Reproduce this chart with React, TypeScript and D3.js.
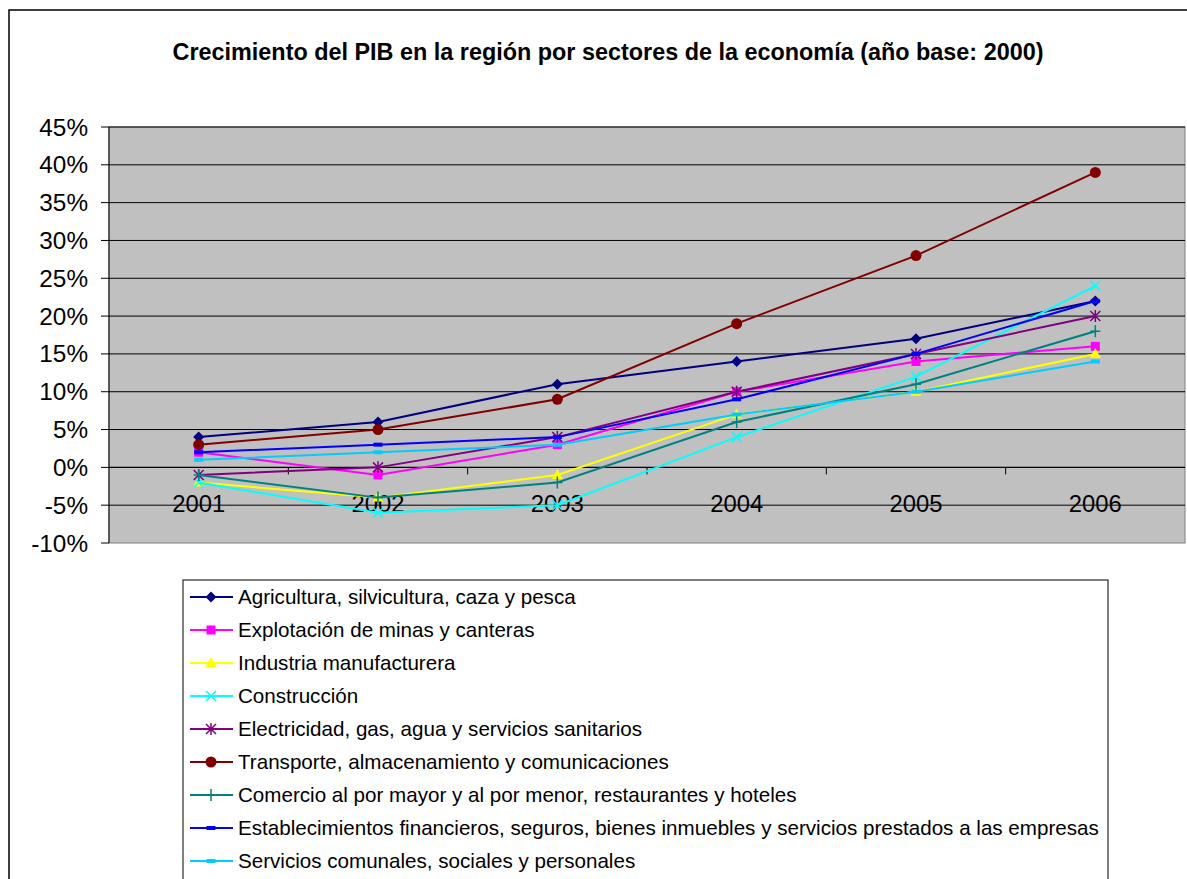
import React from 'react'
import * as d3 from 'd3'

const years = ['2001', '2002', '2003', '2004', '2005', '2006']
const yTicks = [-10, -5, 0, 5, 10, 15, 20, 25, 30, 35, 40, 45]

const sectors = [
    'Agricultura, silvicultura, caza y pesca',
    'Explotación de minas y canteras',
    'Industria manufacturera',
    'Construcción',
    'Electricidad, gas, agua y servicios sanitarios',
    'Transporte, almacenamiento y comunicaciones',
    'Comercio al por mayor y al por menor, restaurantes y hoteles',
    'Establecimientos financieros, seguros, bienes inmuebles y servicios prestados a las empresas',
    'Servicios comunales, sociales y personales',
]

const agricultura = [4, 6, 11, 14, 17, 22]
const mineria = [2, -1, 3, 10, 14, 16]
const industria = [-2, -4, -1, 7, 10, 15]
const construccion = [-2, -6, -5, 4, 12, 24]
const electricidad = [-1, 0, 4, 10, 15, 20]
const transporte = [3, 5, 9, 19, 28, 39]
const comercio = [-1, -4, -2, 6, 11, 18]
const financieros = [2, 3, 4, 9, 15, 22]
const servicios = [1, 2, 3, 7, 10, 14]

const seriesValues = [agricultura, mineria, industria, construccion, electricidad, transporte, comercio, financieros, servicios]
const colors = ['#000080', '#FF00FF', '#FFFF00', '#00FFFF', '#800080', '#800000', '#008080', '#0000FF', '#00CCFF']
const markers = ['diamond', 'square', 'triangle', 'x', 'star', 'circle', 'plus', 'dash', 'dash']

const font = 'Arial, "Liberation Sans", sans-serif'

function Marker (props: { kind: string, x: number, y: number, color: string }) {
    const { kind, x, y, color } = props
    switch (kind) {
    case 'diamond':
        return <path d={`M${x},${y - 5.5}L${x + 5.5},${y}L${x},${y + 5.5}L${x - 5.5},${y}Z`} fill={color} />
    case 'square':
        return <rect x={x - 4.5} y={y - 4.5} width={9} height={9} fill={color} />
    case 'triangle':
        return <path d={`M${x},${y - 6}L${x + 5.5},${y + 4}L${x - 5.5},${y + 4}Z`} fill={color} />
    case 'circle':
        return <circle cx={x} cy={y} r={5.5} fill={color} />
    case 'x':
        return <path d={`M${x - 5},${y - 5}L${x + 5},${y + 5}M${x + 5},${y - 5}L${x - 5},${y + 5}`} stroke={color} strokeWidth={1.5} />
    case 'plus':
        return <path d={`M${x - 5},${y}L${x + 5},${y}M${x},${y - 6}L${x},${y + 6}`} stroke={color} strokeWidth={1.5} />
    case 'star':
        return <path d={`M${x - 5},${y - 5}L${x + 5},${y + 5}M${x + 5},${y - 5}L${x - 5},${y + 5}M${x},${y - 6}L${x},${y + 6}`} stroke={color} strokeWidth={1.5} />
    case 'dash':
        return <rect x={x - 4.5} y={y - 2} width={9} height={4} fill={color} />
    }
    return null
}

export default function App () {
    const plotLeft = 109
    const plotRight = 1185
    const plotTop = 127
    const plotBottom = 543

    const x = d3.scaleBand().domain(years).range([plotLeft, plotRight]).padding(0)
    const y = d3.scaleLinear().domain([-10, 45]).range([plotBottom, plotTop])
    const cx = (yr: string) => (x(yr) as number) + x.bandwidth() / 2

    const line = d3.line<number>()
        .x((d, i) => cx(years[i]))
        .y(d => y(d))

    const legendLeft = 183
    const legendTop = 580
    const legendRowH = 33

    return (
        <svg width={1187} height={879} style={{ position: 'absolute', left: 0, top: 0, background: '#fff' }}
            fontFamily={font}>
            <rect x={9} y={10} width={1200} height={900} fill='#fff' stroke='#000' strokeWidth={1.5} />
            <text x={608} y={60} textAnchor='middle' fontSize={23.4} fontWeight='bold'>
                Crecimiento del PIB en la región por sectores de la economía (año base: 2000)
            </text>

            <rect x={plotLeft} y={plotTop} width={plotRight - plotLeft} height={plotBottom - plotTop}
                fill='#C0C0C0' stroke='#808080' strokeWidth={1} />
            {yTicks.map(t => (
                <g key={t}>
                    {t !== -10 && <line x1={plotLeft} x2={plotRight} y1={y(t)} y2={y(t)} stroke='#000' strokeWidth={1} />}
                    <line x1={plotLeft - 8} x2={plotLeft} y1={y(t)} y2={y(t)} stroke='#000' strokeWidth={1} />
                    <text x={88} y={y(t) + 8.5} textAnchor='end' fontSize={24.3}>{t}%</text>
                </g>
            ))}
            <line x1={plotLeft} x2={plotLeft} y1={plotTop} y2={plotBottom} stroke='#000' strokeWidth={1} />
            <line x1={plotLeft} x2={plotRight} y1={y(0)} y2={y(0)} stroke='#000' strokeWidth={1} />
            {years.map((yr, i) => (
                <g key={yr}>
                    {i > 0 && <line x1={x(yr) as number} x2={x(yr) as number} y1={y(0)} y2={y(0) + 7} stroke='#000' />}
                    <text x={cx(yr)} y={y(0) + 45} textAnchor='middle' fontSize={23.8}>{yr}</text>
                </g>
            ))}

            {seriesValues.map((vals, si) => (
                <g key={si}>
                    <path d={line(vals) || ''} fill='none' stroke={colors[si]} strokeWidth={2} />
                    {vals.map((v, i) => (
                        <Marker key={i} kind={markers[si]} x={cx(years[i])} y={y(v)} color={colors[si]} />
                    ))}
                </g>
            ))}

            <rect x={legendLeft} y={legendTop} width={925} height={340} fill='#fff' stroke='#000' strokeWidth={1} />
            {sectors.map((s, i) => {
                const ly = legendTop + 17 + i * legendRowH
                return (
                    <g key={s}>
                        <line x1={190} x2={233} y1={ly} y2={ly} stroke={colors[i]} strokeWidth={2} />
                        <Marker kind={markers[i]} x={211} y={ly} color={colors[i]} />
                        <text x={238} y={ly + 7} fontSize={20.6}>{s}</text>
                    </g>
                )
            })}
        </svg>
    )
}
